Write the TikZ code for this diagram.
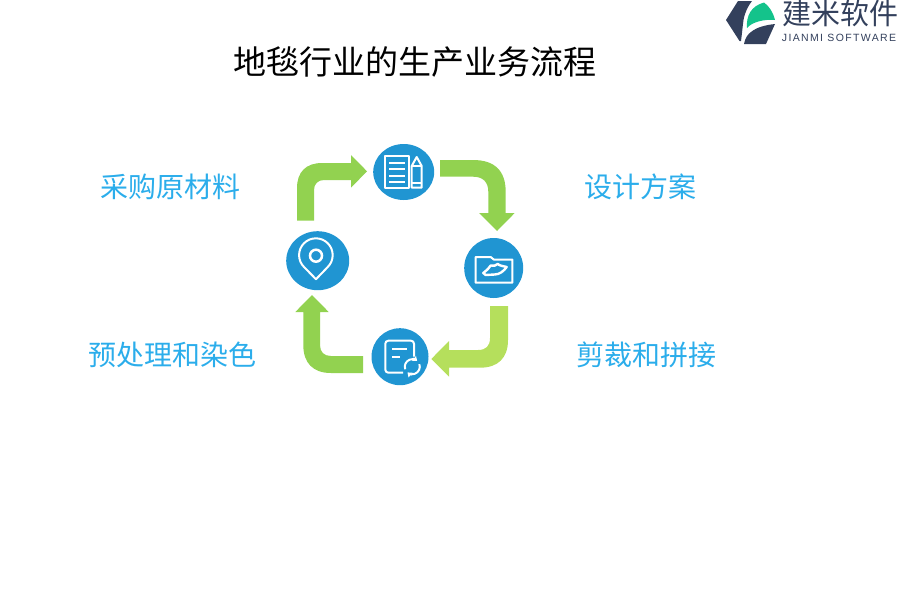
\documentclass[tikz,border=0pt]{standalone}
\usepackage{fontspec}
\usetikzlibrary{shapes.geometric}
\usetikzlibrary{arrows.meta}
\newfontfamily\cjk{Noto Sans CJK SC}
\setsansfont{Liberation Sans}
\definecolor{stepblue}{HTML}{2095D2}
\definecolor{arrowgreen}{HTML}{92D250}
\definecolor{arrowlime}{HTML}{B5DF5C}
\definecolor{labelblue}{HTML}{2BADEB}
\definecolor{logodark}{HTML}{33405C}
\definecolor{logogreen}{HTML}{14C38B}

\begin{document}
\begin{tikzpicture}[x=1pt, y=-1pt]
    % ================= styles =================
    \tikzset{
        % blue discs
        stepdisc/.style={ellipse, fill=stepblue, inner sep=0pt},
        % block arrows
        blockarrow/.style={fill=arrowgreen, draw=none},
        % white icon lines
        iconline/.style={draw=white, line width=2pt, line join=round},
        % text
        titletext/.style={font=\cjk\fontsize{33}{36}\selectfont, text=black},
        steptext/.style={font=\cjk\fontsize{28}{32}\selectfont, text=labelblue}
    }
    \useasboundingbox (0,0) rectangle (900,600);

    % ================= title =================
    \node[titletext] (title) at (415,62) {地毯行业的生产业务流程};

    % ================= discs =================
    \node[stepdisc, minimum width=61pt, minimum height=56pt] (plan) at (403.7,172) {};
    \node[stepdisc, minimum width=59pt, minimum height=60pt] (folder) at (493.7,268) {};
    \node[stepdisc, minimum width=57pt, minimum height=57pt] (sheet) at (400,356.7) {};
    \node[stepdisc, minimum width=63pt, minimum height=59pt] (pin) at (317.7,260.7) {};

    % ================= labels =================
    \node[steptext] (buy) at (170,187) {采购原材料};
    \node[steptext] (design) at (640.5,187) {设计方案};
    \node[steptext] (cut) at (646,355) {剪裁和拼接};
    \node[steptext] (dye) at (172,355) {预处理和染色};

    % ================= arrows =================
    % left disc to top disc
    \fill[blockarrow] (297,220.7) -- (297,188) .. controls (297,172) and (306,163) .. (322,163)
        -- (351,163) -- (351,155) -- (367,171.3) -- (351,187.7) -- (351,180) -- (324,180)
        .. controls (318,180) and (314,184) .. (314,190) -- (314,220.7) -- cycle;
    % top disc to right disc
    \fill[blockarrow] (440,160) -- (473,160) .. controls (495,160) and (505.7,171) .. (505.7,192)
        -- (505.7,213) -- (514.7,213) -- (497,231) -- (479,213) -- (488.3,213) -- (488.3,192)
        .. controls (488.3,182) and (483,176.7) .. (473,176.7) -- (440,176.7) -- cycle;
    % right disc to bottom disc
    \fill[blockarrow, fill=arrowlime] (508,306) -- (508,340) .. controls (508,358) and (498,367.7) .. (480,367.7)
        -- (449,367.7) -- (449,376.7) -- (431.3,359) -- (449,341) -- (449,350) -- (478,350)
        .. controls (486,350) and (490,346) .. (490,338) -- (490,306) -- cycle;
    % bottom disc to left disc
    \fill[blockarrow] (363,356) -- (331,356) .. controls (324,356) and (320,352) .. (320,345)
        -- (320,312) -- (328.7,312) -- (312,295) -- (295.3,312) -- (303.3,312) -- (303.3,345)
        .. controls (303.3,363) and (313,373) .. (331,373) -- (363,373) -- cycle;

    % ================= icons =================
    % page and pencil
    \begin{scope}[shift={(plan.center)}]
        \draw[iconline] (-19,-16) rectangle (5.3,15.7);
        \draw[iconline] (-14.7,-9.5) -- (1.3,-9.5) (-14.7,-3) -- (1.3,-3) (-14.7,3.5) -- (1.3,3.5) (-14.7,10) -- (1.3,10);
        \draw[iconline] (8,-6) -- (13,-15) -- (18,-6) -- (18,15.7) -- (8,15.7) -- cycle;
        \draw[iconline] (8,-6) -- (18,-6) (8,11) -- (18,11);
    \end{scope}
    % folder
    \begin{scope}[shift={(folder.center)}]
        \draw[iconline] (-18,14.7) -- (-18,-11) -- (-3,-11) -- (0,-8.5) -- (18.6,-8.5) -- (18.6,14.7) -- cycle;
        \draw[iconline, line width=2.4pt] (-10.4,5) .. controls (-7,2) and (-5,1) .. (-3,-2.5) .. controls (0,-1) and (2,-3) .. (4,-4)
            .. controls (6,-2) and (10,-2) .. (13,-1) .. controls (10,3) and (6,6.5) .. (1,6.5) -- (-8,7) -- cycle;
    \end{scope}
    % sheet and refresh
    \begin{scope}[shift={(sheet.center)}]
        \draw[iconline, rounded corners=3pt] (3,16) -- (-14.7,16) -- (-14.7,-16) -- (14,-16) -- (14,0);
        \draw[iconline] (-8,-7.4) -- (7,-7.4) (-8,0) -- (0,0);
        \draw[iconline, -{Triangle[width=6pt,length=4pt]}] (12.3,10) ++(160:7.5) arc[start angle=160, end angle=310, radius=7.5];
        \draw[iconline, -{Triangle[width=6pt,length=4pt]}] (12.3,10) ++(340:7.5) arc[start angle=-20, end angle=130, radius=7.5];
    \end{scope}
    % map pin
    \begin{scope}[shift={(pin.center)}]
        \draw[iconline] (-1.7,18.5) -- (-13.7,6.3) arc[start angle=135, end angle=405, radius=16.8] -- cycle;
        \node[circle, draw=white, line width=2.5pt, minimum size=12pt, inner sep=0pt] (pinhole) at (-1.7,-5) {};
    \end{scope}

    % ================= logo =================
    \fill[logodark] (726,20) -- (738,1) -- (752,1) .. controls (748,6) and (745,12) .. (743.5,20)
        .. controls (742.5,27) and (742,34) .. (741,41) -- (739.5,41) -- cycle;
    \fill[logogreen] (747,28) .. controls (746,16) and (751,6) .. (764,2.5) .. controls (769,6) and (773,12) .. (775,20)
        .. controls (764,19) and (752,22) .. (747,28) -- cycle;
    \fill[logodark] (744,44) .. controls (745,38) and (748,34) .. (751,32) .. controls (757,27) and (766,25) .. (775,24)
        -- (766,44) -- cycle;
    \node[font=\cjk\fontsize{29}{31}\selectfont, text=logodark, inner sep=0pt] (logoname) at (840,13) {建米软件};
    \node[font=\sffamily\fontsize{10.5}{12}\selectfont\addfontfeature{LetterSpace=13}, text=logodark, inner sep=0pt] (logosub) at (839,38) {JIANMI SOFTWARE};
\end{tikzpicture}
\end{document}
